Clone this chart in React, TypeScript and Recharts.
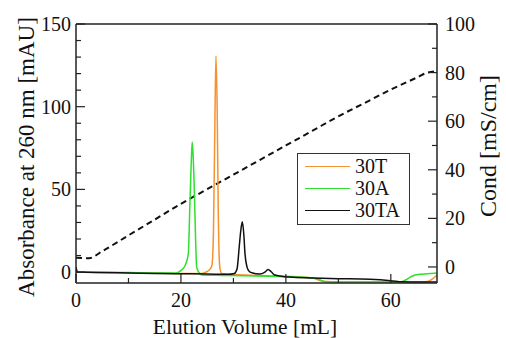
import React from "react"
import { LineChart, Line, XAxis, YAxis, Legend, ReferenceLine } from "recharts"

const FONT = '"Liberation Serif", Tinos, "Times New Roman", "DejaVu Serif", serif'

// 30T (orange)
const vol30T = [0, 5, 10, 15, 20, 24, 24.9, 25.5, 25.9, 26.2, 26.45, 26.67, 26.9, 27.1, 27.3, 27.5, 27.8, 30, 35, 40, 45, 47, 50, 55, 60, 66, 67.2, 68.8]
const abs30T = [0, -0.2, -0.4, -0.6, -0.8, -0.8, 0.2, 1.6, 4, 25, 85, 130.7, 100, 40, 8, 1, -1, -1.5, -2, -2.5, -3.5, -5.5, -6, -6, -6, -6, -5.5, -1.8]

// 30A (green)
const vol30A = [0, 5, 10, 15, 19, 20.1, 20.8, 21.4, 21.7, 21.95, 22.15, 22.3, 22.5, 22.8, 23.0, 23.4, 24, 28, 32, 36, 40, 44, 46, 47.5, 50, 55, 60, 62, 63, 64, 65.5, 67, 68.8]
const abs30A = [0, -0.2, -0.3, -0.5, -0.5, 1.2, 4, 11, 40, 65, 78.6, 72, 55, 19, 3, 0, -1.8, -2, -2.2, -2.5, -2.8, -3.3, -4, -5.8, -6, -6, -6, -5.8, -4.5, -2.5, -1.3, -1, -0.6]

// 30TA (black)
const vol30TA = [0, 0.3, 5, 10, 15, 20, 25, 29, 30.2, 30.7, 31.1, 31.4, 31.7, 32.0, 32.2, 32.6, 33.0, 33.5, 35, 36, 36.6, 37.2, 37.9, 39.8, 42, 45, 47, 50, 56, 60, 62.3, 65, 68.8]
const abs30TA = [3, 0, -0.3, -0.5, -0.8, -1.0, -1.2, -1.3, -0.8, 2, 15, 25, 30.4, 22, 11.3, 3, 0.5, -0.4, -1.2, 0, 1.6, 0.2, -1.8, -2.8, -3.2, -3.6, -3.8, -4, -4.4, -5.2, -5.9, -6, -6]

// conductivity (dashed, right axis)
const volCond = [0, 2.5, 5, 10, 15, 20, 25, 30, 35, 40, 45, 50, 55, 60, 65, 67, 68.8]
const cond = [3.8, 3.6, 6.5, 13, 19.5, 26, 32, 38, 44, 50, 56, 62, 67.5, 73, 78, 80, 80.5]

const xTicks = [0, 10, 20, 30, 40, 50, 60]
const leftTicks = [0, 10, 20, 30, 40, 50, 60, 70, 80, 90, 100, 110, 120, 130, 140, 150]
const rightTicks = [0, 10, 20, 30, 40, 50, 60, 70, 80, 90, 100]

const legendOrder = ["30T", "30A", "30TA"]

const pairs = (xs: number[], ys: number[]) => xs.map((v, i) => ({ v, y: ys[i] }))

const AXIS = "#222"

const LeftTick = (props: any) => {
  const { x, y, payload } = props
  const major = payload.value % 50 === 0
  return (
    <g>
      <line x1={x} x2={x + (major ? 9 : 5)} y1={y} y2={y} stroke={AXIS} strokeWidth={1.2} />
      {major && (
        <text x={x - 5} y={y + 7} textAnchor="end" fontSize={20} fontFamily={FONT} fill="#111">
          {payload.value}
        </text>
      )}
    </g>
  )
}

const RightTick = (props: any) => {
  const { x, y, payload } = props
  const major = payload.value % 20 === 0
  return (
    <g>
      <line x1={x} x2={x - (major ? 9 : 5)} y1={y} y2={y} stroke={AXIS} strokeWidth={1.2} />
      {major && (
        <text x={x + 8} y={y + 7} textAnchor="start" fontSize={20} fontFamily={FONT} fill="#111">
          {payload.value}
        </text>
      )}
    </g>
  )
}

const BottomTick = (props: any) => {
  const { x, y, payload } = props
  const major = payload.value % 20 === 0
  return (
    <g>
      <line x1={x} x2={x} y1={y} y2={y - (major ? 9 : 5)} stroke={AXIS} strokeWidth={1.2} />
      {major && (
        <text x={x} y={y + 24} textAnchor="middle" fontSize={20} fontFamily={FONT} fill="#111">
          {payload.value}
        </text>
      )}
    </g>
  )
}

const renderLegend = (props: any) => {
  const items = (props.payload || [])
    .filter((p: any) => legendOrder.includes(p.value))
    .sort((a: any, b: any) => legendOrder.indexOf(a.value) - legendOrder.indexOf(b.value))
  return (
    <div
      style={{
        width: 113,
        height: 72,
        border: "1.5px solid #333",
        boxSizing: "border-box",
        background: "#fff",
        padding: "1px 0 0 7px",
        fontFamily: FONT,
        fontSize: 20,
        color: "#111",
      }}
    >
      {items.map((p: any) => (
        <div key={p.value} style={{ display: "flex", alignItems: "center", height: 22 }}>
          <span style={{ width: 45, borderTop: `1.5px solid ${p.color}`, marginRight: 5 }} />
          <span style={{ lineHeight: "22px" }}>{p.value}</span>
        </div>
      ))}
    </div>
  )
}

export default function App() {
  return (
    <div style={{ position: "absolute", left: 0, top: 0, width: 506, height: 338, background: "#fff" }}>
      <LineChart width={506} height={338} margin={{ top: 24, right: 0, bottom: 0, left: 0 }}>
        <XAxis
          dataKey="v"
          type="number"
          domain={[0, 68.8]}
          allowDataOverflow
          ticks={xTicks}
          interval={0}
          height={55}
          tickSize={0}
          tickMargin={0}
          tickLine={false}
          tick={<BottomTick />}
          axisLine={{ stroke: AXIS, strokeWidth: 1.5 }}
        />
        <YAxis
          yAxisId="left"
          type="number"
          domain={[-6.6, 150]}
          allowDataOverflow
          ticks={leftTicks}
          interval={0}
          width={76}
          tickSize={0}
          tickMargin={0}
          tickLine={false}
          tick={<LeftTick />}
          axisLine={{ stroke: AXIS, strokeWidth: 1.5 }}
        />
        <YAxis
          yAxisId="right"
          orientation="right"
          type="number"
          domain={[-6.6, 100]}
          allowDataOverflow
          ticks={rightTicks}
          interval={0}
          width={69}
          tickSize={0}
          tickMargin={0}
          tickLine={false}
          tick={<RightTick />}
          axisLine={{ stroke: AXIS, strokeWidth: 1.5 }}
        />
        <ReferenceLine yAxisId="left" y={150} stroke={AXIS} strokeWidth={1.5} />
        <Line
          yAxisId="right"
          data={pairs(volCond, cond)}
          dataKey="y"
          name="Cond"
          type="monotone"
          stroke="#111"
          strokeWidth={2}
          strokeDasharray="6 4"
          dot={false}
          legendType="none"
          isAnimationActive={false}
        />
        <Line
          yAxisId="left"
          data={pairs(vol30T, abs30T)}
          dataKey="y"
          name="30T"
          type="monotone"
          stroke="#F5922F"
          strokeWidth={1.5}
          dot={false}
          isAnimationActive={false}
        />
        <Line
          yAxisId="left"
          data={pairs(vol30A, abs30A)}
          dataKey="y"
          name="30A"
          type="monotone"
          stroke="#2FE02F"
          strokeWidth={1.5}
          dot={false}
          isAnimationActive={false}
        />
        <Line
          yAxisId="left"
          data={pairs(vol30TA, abs30TA)}
          dataKey="y"
          name="30TA"
          type="monotone"
          stroke="#111"
          strokeWidth={1.5}
          dot={false}
          isAnimationActive={false}
        />
        <Legend
          layout="vertical"
          align="center"
          verticalAlign="middle"
          content={renderLegend}
          wrapperStyle={{ left: 297, top: 153, width: 113 }}
        />
      </LineChart>
      <svg
        width={506}
        height={338}
        style={{ position: "absolute", left: 0, top: 0, pointerEvents: "none" }}
      >
        <text x={245} y={334} textAnchor="middle" fontSize={21.5} fontFamily={FONT} fill="#111">
          Elution Volume [mL]
        </text>
        <text
          transform="translate(34,157) rotate(-90)"
          textAnchor="middle"
          fontSize={23}
          fontFamily={FONT}
          fill="#111"
        >
          Absorbance at 260 nm [mAU]
        </text>
        <text
          transform="translate(496,146) rotate(-90)"
          textAnchor="middle"
          fontSize={24}
          fontFamily={FONT}
          fill="#111"
        >
          Cond [mS/cm]
        </text>
      </svg>
    </div>
  )
}
